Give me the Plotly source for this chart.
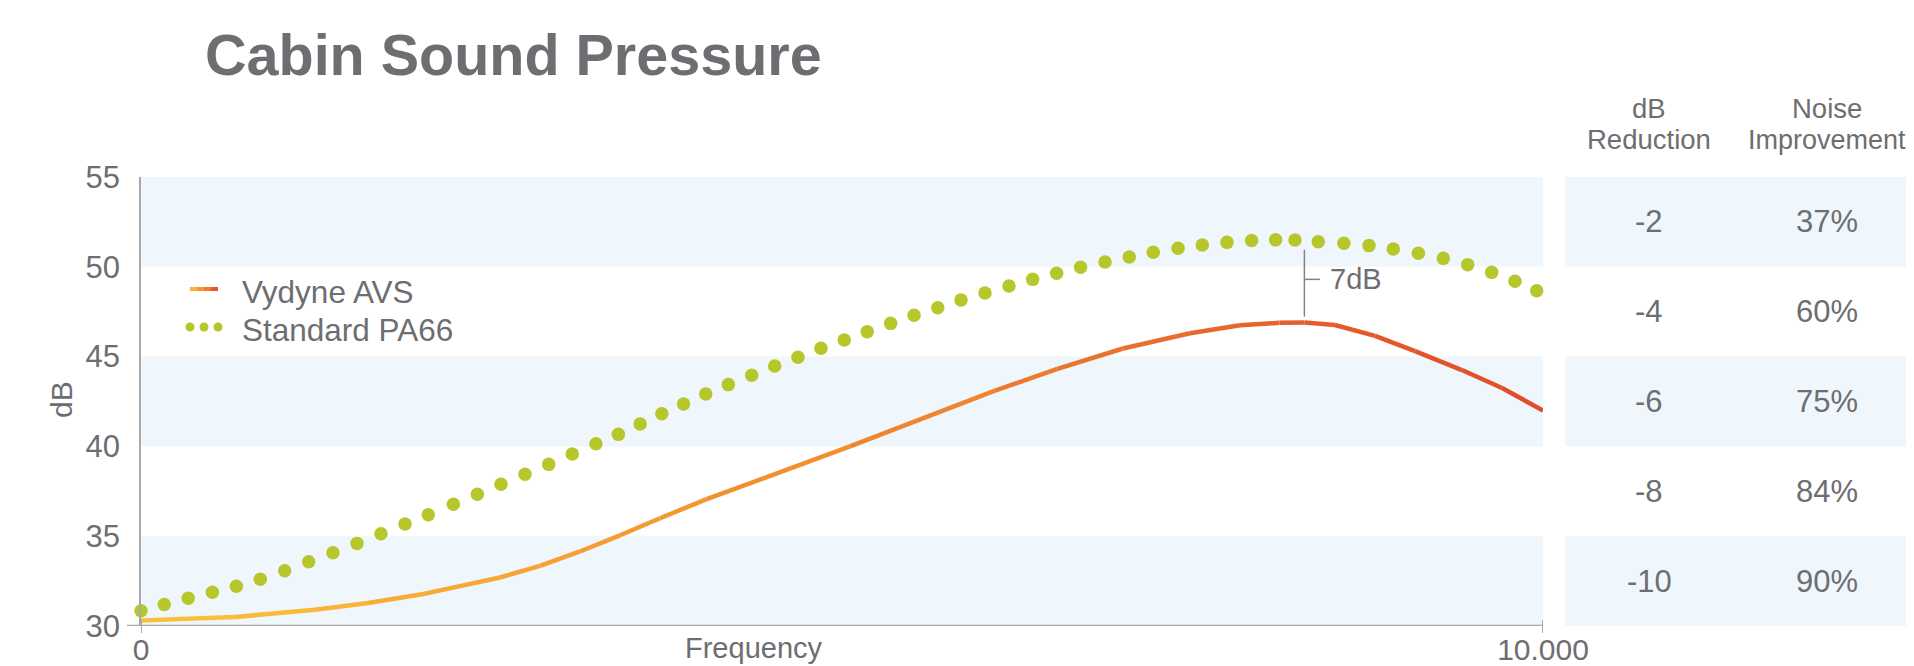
import plotly.graph_objects as go

# ---------------- data ----------------
freq_std = [0, 166, 337, 509, 680, 851, 1025, 1196, 1369, 1541, 1712, 1883, 2049,
            2228, 2399, 2568, 2739, 2908, 3076, 3245, 3405, 3560, 3715, 3870, 4028,
            4189, 4356, 4520, 4686, 4850, 5016, 5180, 5347, 5514, 5683, 5849, 6020,
            6191, 6360, 6531, 6702, 6876, 7049, 7220, 7397, 7570, 7746, 7922, 8093,
            8231, 8397, 8580, 8759, 8932, 9111, 9289, 9463, 9634, 9800, 9955]
db_std = [30.85, 31.2, 31.54, 31.88, 32.21, 32.6, 33.08, 33.58, 34.08, 34.6, 35.14, 35.68, 36.2,
          36.78, 37.33, 37.89, 38.45, 39.0, 39.58, 40.15, 40.67, 41.25, 41.82, 42.36, 42.92,
          43.44, 43.96, 44.48, 44.96, 45.46, 45.92, 46.39, 46.85, 47.3, 47.72, 48.15, 48.54,
          48.93, 49.30, 49.64, 49.97, 50.27, 50.55, 50.81, 51.03, 51.21, 51.36, 51.47, 51.5,
          51.49, 51.40, 51.31, 51.18, 50.99, 50.75, 50.47, 50.12, 49.69, 49.19, 48.67]

freq_avs = [0, 670, 1241, 1619, 2026, 2561, 2846, 3131, 3417, 3702, 4030, 5057, 6091,
            6531, 7004, 7482, 7839, 8120, 8300, 8516, 8802, 9087, 9422, 9708, 10000]
db_avs = [30.3, 30.5, 30.9, 31.28, 31.8, 32.7, 33.35, 34.15, 35.05, 36.0, 37.05, 40.0, 43.1,
          44.3, 45.45, 46.3, 46.75, 46.88, 46.9, 46.76, 46.15, 45.3, 44.25, 43.25, 42.0]

y_ticks = [30, 35, 40, 45, 50, 55]
x_tickvals = [0, 10000]
x_ticktext = ["0", "10.000"]
table_reduction = ["-2", "-4", "-6", "-8", "-10"]
table_improvement = ["37%", "60%", "75%", "84%", "90%"]
gap_freq = 8298
gap_label = "7dB"

# ---------------- style ----------------
GRAY = "#6d6e71"
AXIS = "#a7a9ac"
BAND = "#eff7fd"
GREEN = "#b7c62b"
FONT = "Liberation Sans, Arial, Helvetica, sans-serif"

grad_stops = [(0, (252, 196, 58)), (3000, (246, 160, 51)), (6000, (238, 128, 46)),
              (8000, (231, 98, 44)), (10000, (224, 75, 42))]


def grad_color(f):
    for (f0, c0), (f1, c1) in zip(grad_stops[:-1], grad_stops[1:]):
        if f <= f1:
            t = (f - f0) / (f1 - f0)
            c = [round(a + (b - a) * t) for a, b in zip(c0, c1)]
            return "rgb(%d,%d,%d)" % tuple(c)
    return "rgb(%d,%d,%d)" % grad_stops[-1][1]


# the page body adds an 8px offset; the figure is sized so it ends at the window edge
OFF = 8
SW, SH = 1914, 666                      # screen size
W, H = SW - OFF, SH - OFF               # figure size
PLOT_L, PLOT_R, PLOT_T, PLOT_B = 141, 1543, 177, 626   # plot area on screen
L, T = PLOT_L - OFF, PLOT_T - OFF
R, B = SW - PLOT_R, SH - PLOT_B
PW, PH = PLOT_R - PLOT_L, PLOT_B - PLOT_T


def px_x(px):
    return (px - PLOT_L) / PW


def px_y(py):
    return (PLOT_B - py) / PH


fig = go.Figure()

# Vydyne AVS: gradient line drawn segment by segment
for i in range(len(freq_avs) - 1):
    fm = (freq_avs[i] + freq_avs[i + 1]) / 2
    fig.add_trace(go.Scatter(
        x=freq_avs[i:i + 2], y=db_avs[i:i + 2], mode="lines",
        line=dict(color=grad_color(fm), width=4.5),
        showlegend=False, hoverinfo="skip", name="Vydyne AVS"))

# Standard PA66 dots
fig.add_trace(go.Scatter(
    x=freq_std, y=db_std, mode="markers", name="Standard PA66",
    marker=dict(color=GREEN, size=13.5, line=dict(width=0)),
    cliponaxis=False, showlegend=False))

shapes = []
# bands in plot and table
band_pairs = [(y_ticks[i], y_ticks[i + 1]) for i in range(0, len(y_ticks) - 1, 2)]
for lo, hi in band_pairs:
    shapes.append(dict(type="rect", xref="paper", yref="y", x0=0, x1=1, y0=lo, y1=hi,
                       fillcolor=BAND, line=dict(width=0), layer="below"))
    shapes.append(dict(type="rect", xref="paper", yref="y", x0=px_x(1565), x1=px_x(1930),
                       y0=lo, y1=hi, fillcolor=BAND, line=dict(width=0), layer="below"))

# x-axis base line (extends slightly left of the y axis)
shapes.append(dict(type="line", xref="paper", yref="y", x0=px_x(127), x1=1,
                   y0=y_ticks[0], y1=y_ticks[0], line=dict(color=AXIS, width=2.5)))
# crossing ticks at both ends of the x axis
for tv in x_tickvals:
    shapes.append(dict(type="line", xref="x", yref="paper", x0=tv, x1=tv,
                       y0=px_y(633), y1=px_y(620), line=dict(color=AXIS, width=2)))

# 7dB gap marker
std_peak = max(db_std)
avs_peak = max(db_avs)
mid = (std_peak + avs_peak) / 2 + 0.1
shapes.append(dict(type="line", xref="x", yref="y", x0=gap_freq, x1=gap_freq,
                   y0=std_peak - 0.55, y1=avs_peak + 0.33, line=dict(color="#808285", width=1.5)))
shapes.append(dict(type="line", xref="x", yref="y", x0=gap_freq, x1=gap_freq + 111,
                   y0=mid, y1=mid, line=dict(color="#808285", width=1.5)))

# manual legend symbols
lx0, lx1, ly = 190, 218, 289
nseg = 4
for k in range(nseg):
    a = lx0 + (lx1 - lx0) * k / nseg
    b = lx0 + (lx1 - lx0) * (k + 1) / nseg
    shapes.append(dict(type="line", xref="paper", yref="paper", x0=px_x(a), x1=px_x(b),
                       y0=px_y(ly), y1=px_y(ly),
                       line=dict(color=grad_color(10000 * (k + 0.5) / nseg), width=4)))
for cx in (190, 204, 218):
    shapes.append(dict(type="circle", xref="paper", yref="paper", xsizemode="pixel",
                       ysizemode="pixel", xanchor=px_x(cx), yanchor=px_y(327),
                       x0=-4.5, x1=4.5, y0=-4.5, y1=4.5, fillcolor=GREEN, line=dict(width=0)))


def note(text, x, y, size, xref="paper", yref="paper", xanchor="center", angle=0):
    return dict(text=text, xref=xref, yref=yref, x=x, y=y, xanchor=xanchor,
                yanchor="middle", showarrow=False, textangle=angle,
                font=dict(family=FONT, size=size, color=GRAY))


annotations = [
    note("Vydyne AVS", px_x(240), px_y(292), 31.5, xanchor="left"),
    note("Standard PA66", px_x(240), px_y(330), 31.5, xanchor="left"),
    note(gap_label, gap_freq + 170, mid, 29, xref="x", yref="y", xanchor="left"),
    note("Frequency", px_x(754), px_y(648), 29),
    note("dB", px_x(61), px_y(400), 30, angle=-90),
]

# table
col1, col2 = px_x(1649), px_x(1827)
annotations += [note("dB", col1, px_y(108), 27.5), note("Noise", col2, px_y(108), 27.5),
                note("Reduction", col1, px_y(140), 27.5), note("Improvement", col2, px_y(140), 27)]
row_centers = [(y_ticks[i] + y_ticks[i + 1]) / 2 for i in range(len(y_ticks) - 1)][::-1]
for yc, red, imp in zip(row_centers, table_reduction, table_improvement):
    annotations.append(note(red, col1, yc, 31, yref="y"))
    annotations.append(note(imp, col2, yc, 31, yref="y"))

fig.update_layout(
    template="none",
    width=W, height=H, autosize=False,
    margin=dict(l=L, r=R, t=T, b=B, pad=0, autoexpand=False),
    paper_bgcolor="white", plot_bgcolor="white",
    showlegend=False,
    title=dict(text="Cabin Sound Pressure", x=(205 - OFF) / W, xanchor="left", xref="container",
               y=1 - (55 - OFF) / H, yanchor="middle", yref="container",
               font=dict(family=FONT, size=57.5, color=GRAY, weight="bold")),
    xaxis=dict(range=[0, 10000], tickvals=x_tickvals, ticktext=x_ticktext,
               ticks="", ticklabelstandoff=3, automargin=False,
               showgrid=False, zeroline=False, showline=False,
               tickfont=dict(family=FONT, size=30, color=GRAY)),
    yaxis=dict(range=[y_ticks[0], y_ticks[-1]], tickvals=y_ticks, ticks="",
               showgrid=False, zeroline=False, showline=True, linecolor=AXIS, linewidth=1.5,
               ticklabelstandoff=13, automargin=False,
               tickfont=dict(family=FONT, size=31, color=GRAY)),
    shapes=shapes, annotations=annotations,
)

fig.write_html("out.html")
